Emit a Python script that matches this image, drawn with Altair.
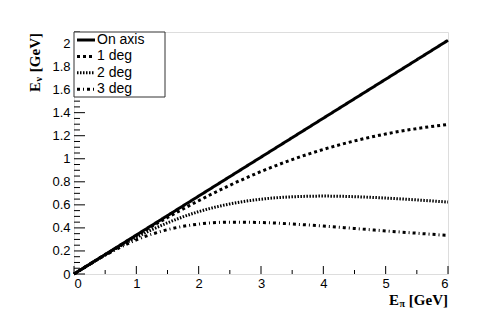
import altair as alt
import pandas as pd

# Values
x_vals = [0, 0.5, 1, 1.5, 2, 2.5, 3, 3.5, 4, 4.5, 5, 5.5, 6]
on_axis = [0, 0.169, 0.338, 0.507, 0.676, 0.845, 1.014, 1.183, 1.352, 1.521, 1.690, 1.859, 2.028]
deg1 = [0, 0.168, 0.333, 0.490, 0.636, 0.770, 0.889, 0.993, 1.081, 1.155, 1.215, 1.262, 1.298]
deg2 = [0, 0.166, 0.318, 0.444, 0.541, 0.608, 0.649, 0.670, 0.676, 0.671, 0.659, 0.643, 0.624]
deg3 = [0, 0.163, 0.296, 0.385, 0.433, 0.450, 0.447, 0.434, 0.416, 0.395, 0.374, 0.354, 0.334]
series_names = ["On axis", "1 deg", "2 deg", "3 deg"]

x_major = [0, 1, 2, 3, 4, 5, 6]
x_minor = [0.5, 1.5, 2.5, 3.5, 4.5, 5.5]
y_major = [0, 0.2, 0.4, 0.6, 0.8, 1.0, 1.2, 1.4, 1.6, 1.8, 2.0]
y_minor = [round(0.05 * i, 2) for i in range(43) if i % 4 != 0]

rows = []
for name, ys in zip(series_names, [on_axis, deg1, deg2, deg3]):
    for xv, yv in zip(x_vals, ys):
        rows.append({"x": xv, "y": yv, "s": name})
df = pd.DataFrame(rows)

W, H = 374, 242
xs = alt.Scale(domain=[0, 6], nice=False, zero=False)
ys_ = alt.Scale(domain=[0, 2.1], nice=False, zero=False)
LABEL_FONT = "Liberation Sans"
TITLE_FONT = "Liberation Serif"
DASHES = [[1, 0], [3, 3], [1.5, 1.5], [3, 3, 1, 3]]

x_axis = alt.Axis(values=x_major, ticks=False, domain=False, grid=False, title=None,
                  labelFont=LABEL_FONT, labelFontSize=13, labelColor="black",
                  labelPadding=3, format="d", labelOverlap=False)
y_axis = alt.Axis(values=y_major, ticks=False, domain=False, grid=False, title=None,
                  labelFont=LABEL_FONT, labelFontSize=13, labelColor="black",
                  labelPadding=4, labelOverlap=False,
                  labelExpr="datum.value == 0 ? '0' : format(datum.value, '.1~f')")

lines = alt.Chart(df).mark_line(strokeWidth=3, color="black", interpolate="monotone").encode(
    x=alt.X("x:Q", scale=xs, axis=x_axis),
    y=alt.Y("y:Q", scale=ys_, axis=y_axis),
    strokeDash=alt.StrokeDash("s:N", scale=alt.Scale(domain=series_names, range=DASHES),
                              sort=series_names, legend=None),
    order="x:Q",
)

def tick_layer(vals, axis, length):
    d = pd.DataFrame({"v": vals})
    if axis == "x":
        return alt.Chart(d).mark_rule(color="black", strokeWidth=1).encode(
            x=alt.X("v:Q", scale=xs, axis=x_axis), y=alt.value(H), y2=alt.value(H - length))
    return alt.Chart(d).mark_rule(color="black", strokeWidth=1).encode(
        y=alt.Y("v:Q", scale=ys_, axis=y_axis), x=alt.value(0), x2=alt.value(length))

ticks = [tick_layer(x_major, "x", 8), tick_layer(x_minor, "x", 4),
         tick_layer(y_major, "y", 11), tick_layer(y_minor, "y", 6)]

def txt(text, x, y, size, angle=0, align="left", font=TITLE_FONT, weight="bold",
        baseline="alphabetic"):
    return alt.Chart(pd.DataFrame({"t": [text]})).mark_text(
        font=font, fontWeight=weight, fontSize=size, align=align,
        baseline=baseline, angle=angle, color="black").encode(
        text="t:N", x=alt.value(x), y=alt.value(y))

titles = [
    txt("[GeV]", W, H + 31, 15, align="right"),
    txt("π", W - 43, H + 33, 10, align="right"),
    txt("E", W - 49, H + 31, 15, align="right"),
    txt("[GeV]", -34, 1, 15, angle=270, align="right"),
    txt("ν", -32, 45, 10, angle=270, align="right"),
    txt("E", -34, 50, 15, angle=270, align="right"),
]

# Legend box (top-left inside the frame)
legend_box = alt.Chart(pd.DataFrame({"a": [0]})).mark_rect(
    fill="white", stroke="#333", strokeWidth=1).encode(
    x=alt.value(0), x2=alt.value(91), y=alt.value(0), y2=alt.value(65))
legend_layers = [legend_box]
for i, (name, dash) in enumerate(zip(series_names, DASHES)):
    yc = 8 + i * 16.4
    legend_layers.append(
        alt.Chart(pd.DataFrame({"s": [name]})).mark_rule(
            color="black", strokeWidth=3, strokeDash=dash).encode(
            x=alt.value(3), x2=alt.value(21), y=alt.value(yc)))
    legend_layers.append(txt(name, 23, yc, 14, font=LABEL_FONT, weight="normal",
                             baseline="middle"))

chart = alt.layer(lines, *ticks, *titles, *legend_layers).properties(
    width=W, height=H,
    autosize=alt.AutoSizeParams(type="none"),
    padding={"left": 66, "top": 24, "right": 42, "bottom": 41},
).configure_view(stroke="#222", strokeWidth=1.2).configure_axis(
    labelOverlap=False
).configure(background="white")

chart.save("out.html", embed_options={"renderer": "svg", "actions": False})
